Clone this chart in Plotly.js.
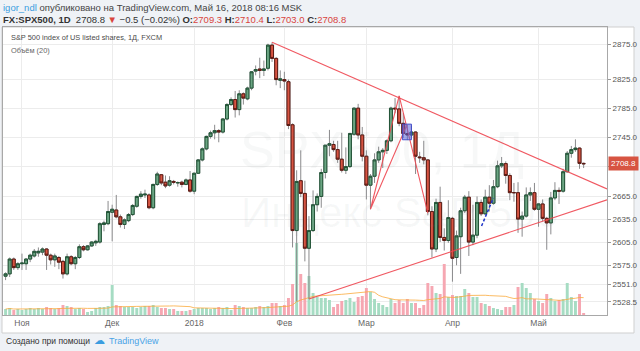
<!DOCTYPE html>
<html><head><meta charset="utf-8">
<script src="https://cdn.plot.ly/plotly-3.0.1.min.js"></script>
<style>html,body{margin:0;padding:0;background:#eff2f6;} #chart{width:640px;height:351px;}</style>
</head><body><div id="chart"></div>
<script>
// ---------- DATA ----------
const dates = [
 "2017-10-26","2017-10-27","2017-10-30","2017-10-31",
 "2017-11-01","2017-11-02","2017-11-03","2017-11-06","2017-11-07","2017-11-08","2017-11-09","2017-11-10","2017-11-13","2017-11-14","2017-11-15","2017-11-16","2017-11-17","2017-11-20","2017-11-21","2017-11-22","2017-11-23","2017-11-24","2017-11-27","2017-11-28","2017-11-29","2017-11-30",
 "2017-12-01","2017-12-04","2017-12-05","2017-12-06","2017-12-07","2017-12-08","2017-12-11","2017-12-12","2017-12-13","2017-12-14","2017-12-15","2017-12-18","2017-12-19","2017-12-20","2017-12-21","2017-12-22","2017-12-26","2017-12-27","2017-12-28","2017-12-29",
 "2018-01-02","2018-01-03","2018-01-04","2018-01-05","2018-01-08","2018-01-09","2018-01-10","2018-01-11","2018-01-12","2018-01-15","2018-01-16","2018-01-17","2018-01-18","2018-01-19","2018-01-22","2018-01-23","2018-01-24","2018-01-25","2018-01-26","2018-01-29","2018-01-30","2018-01-31",
 "2018-02-01","2018-02-02","2018-02-05","2018-02-06","2018-02-07","2018-02-08","2018-02-09","2018-02-12","2018-02-13","2018-02-14","2018-02-15","2018-02-16","2018-02-19","2018-02-20","2018-02-21","2018-02-22","2018-02-23","2018-02-26","2018-02-27","2018-02-28",
 "2018-03-01","2018-03-02","2018-03-05","2018-03-06","2018-03-07","2018-03-08","2018-03-09","2018-03-12","2018-03-13","2018-03-14","2018-03-15","2018-03-16","2018-03-19","2018-03-20","2018-03-21","2018-03-22","2018-03-23","2018-03-26","2018-03-27","2018-03-28","2018-03-29",
 "2018-04-02","2018-04-03","2018-04-04","2018-04-05","2018-04-06","2018-04-09","2018-04-10","2018-04-11","2018-04-12","2018-04-13","2018-04-16","2018-04-17","2018-04-18","2018-04-19","2018-04-20","2018-04-23","2018-04-24","2018-04-25","2018-04-26","2018-04-27","2018-04-30",
 "2018-05-01","2018-05-02","2018-05-03","2018-05-04","2018-05-07","2018-05-08","2018-05-09","2018-05-10","2018-05-11","2018-05-14","2018-05-15","2018-05-16"];

const openP = [2561,2564,2583,2572,
 2577,2577,2583,2587,2591,2592,2596,2588,2582,2585,2580,2564,2586,2577,2585,2599,2595,2600,2604,2605,2628,2629,
 2644,2647,2638,2628,2633,2641,2652,2665,2667,2667,2650,2681,2694,2684,2680,2685,2683,2684,2681,2687,
 2672,2696,2714,2729,2746,2751,2754,2752,2770,2790,2797,2783,2805,2798,2813,2837,2840,2838,2841,2874,2855,2824,
 2825,2822,2762,2620,2686,2669,2597,2620,2654,2665,2697,2734,2735,2728,2715,2700,2705,2749,2785,2748,
 2719,2680,2692,2714,2725,2727,2740,2785,2784,2764,2750,2748,2752,2718,2717,2714,2645,2596,2657,2611,2607,
 2636,2585,2612,2646,2664,2605,2614,2657,2642,2664,2656,2678,2706,2709,2693,2670,2670,2635,2639,2667,2670,
 2648,2655,2636,2630,2663,2673,2672,2698,2723,2728,2730,2709.3];
const highP = [2566,2585,2585,2579,
 2590,2584,2590,2596,2598,2598,2597,2590,2590,2587,2582,2590,2588,2587,2602,2601,2601,2606,2608,2631,2633,2659,
 2654,2667,2641,2636,2643,2655,2666,2672,2674,2669,2682,2698,2695,2693,2692,2687,2685,2686,2689,2699,
 2697,2715,2731,2747,2754,2762,2756,2771,2792,2800,2809,2810,2807,2815,2837,2845,2856,2852,2876,2878,2857,2838,
 2836,2825,2764,2700,2727,2686,2639,2673,2669,2702,2734,2755,2740,2740,2751,2731,2751,2786,2791,2759,
 2727,2695,2723,2732,2730,2742,2787,2799,2802,2778,2762,2761,2753,2725,2740,2715,2652,2662,2678,2623,2660,
 2638,2620,2650,2667,2672,2654,2665,2661,2674,2680,2687,2713,2718,2712,2696,2683,2684,2645,2677,2677,2683,
 2656,2661,2638,2671,2684,2677,2702,2726,2733,2742,2731,2710.4];
const lowP = [2556,2560,2569,2569,
 2569,2569,2579,2585,2586,2588,2569,2576,2573,2570,2558,2562,2575,2570,2583,2593,2594,2599,2600,2603,2619,2627,
 2606,2636,2624,2622,2631,2639,2650,2662,2663,2648,2648,2679,2680,2676,2678,2681,2678,2677,2680,2670,
 2668,2695,2712,2727,2743,2742,2738,2750,2768,2788,2772,2775,2790,2796,2810,2831,2827,2830,2838,2850,2817,2813,
 2810,2756,2598,2529,2664,2580,2532,2618,2645,2650,2689,2719,2725,2710,2697,2695,2703,2747,2742,2712,
 2661,2648,2683,2710,2703,2722,2738,2778,2760,2744,2741,2745,2695,2710,2708,2640,2585,2592,2605,2594,2604,
 2554,2575,2564,2643,2587,2601,2610,2639,2640,2645,2654,2676,2703,2682,2660,2658,2617,2612,2637,2659,2646,
 2625,2632,2595,2615,2660,2655,2670,2697,2717,2725,2702,2703];
const closeP = [2564,2583,2572,2577,
 2577.8,2583,2588,2593,2593,2596,2588,2582,2587,2579,2564,2586,2577,2585,2599,2595,2600,2605,2606,2629,2630,2645,
 2648,2638,2628,2634,2641,2653,2665,2668,2668,2650,2681,2695,2683,2679,2686,2684,2683.5,2681,2687,2672,
 2696,2714,2729,2746,2751,2754,2752,2770,2790,2797,2783,2805,2799,2813,2836,2839,2838,2840,2874,2855,2825,2826,
 2823,2761,2620,2685,2669,2597,2620,2654,2665,2697,2734,2736,2728,2715,2700,2705,2750,2785,2748,2719,
 2680,2692,2714,2725,2727,2740,2785,2784,2764,2750,2748,2752,2719,2717,2714,2645,2596,2657,2611,2607,2637,
 2584,2613,2646,2664,2605,2614,2657,2642,2664,2656,2678,2706,2709,2693,2670,2670,2635,2639,2667,2670,2648,
 2655,2636,2630,2663,2673,2672,2698,2723,2728,2730,2709.3,2708.8];
// volume (relative units)
const volume = [6,7,5,6,
 5,6,7,6,7,6,8,7,6,7,10,9,8,6,7,6,3,4,7,8,8,9,
 30,10,9,8,8,8,7,8,9,9,10,8,7,7,6,6,4,4,4,5,
 6,7,7,7,6,7,8,7,8,5,10,9,8,7,7,8,9,8,9,12,12,9,
 10,17,31,72,41,32,39,22,18,17,17,15,8,11,14,15,17,13,18,19,
 27,23,16,12,10,8,16,12,15,12,16,12,12,7,10,32,29,22,21,51,18,
 20,19,19,26,22,18,18,12,11,9,7,6,5,8,8,10,28,32,27,22,16,
 14,12,21,17,14,15,16,32,18,14,21,2];

const monthNames = ['2018','Фев','Мар','Апр','Май','Июн','Июл','Авг','Сен','Окт','Ноя','Дек'];
const priceTicks = [2528.5,2551.0,2575.0,2605.0,2635.0,2665.0,2705.0,2745.0,2785.0,2825.0,2875.0];
const lastPrice = 2708.8;

// drawings (bar index, price)
const upperTrendX = [65, 146.7],  upperTrendY = [2878, 2675];
const lowerTrendX = [74, 146.7],  lowerTrendY = [2532, 2660.5];
const zigX = [97.9, 89, 96, 103],  zigY = [2762, 2648, 2802, 2643];
const boxX = [96.8, 99.0, 99.0, 96.8, 96.8], boxY = [2741.4, 2741.4, 2762.9, 2762.9, 2741.4];
const dashX = [116.1, 119], dashY = [2626, 2663];

// ---------- BUILD ----------
const N = dates.length;
const xs = dates.map((d,k)=>k);
const tickIdx = [], tickTxt = [];
for (let k=1;k<N;k++){ if (dates[k].slice(5,7)!==dates[k-1].slice(5,7)) { tickIdx.push(k); tickTxt.push(monthNames[parseInt(dates[k].slice(5,7))-1]); } }
const up = closeP.map((c,k)=>c>=openP[k]);
const volColors = up.map(u=>u?'#a6dcc3':'#f6a7b2');
const volMA = volume.map((v,k)=>{const s=Math.max(0,k-19);const a=volume.slice(s,k+1);return a.reduce((p,q)=>p+q,0)/a.length;});
const bodyHi = openP.map((o,k)=>Math.max(o,closeP[k]));
const bodyLo = openP.map((o,k)=>Math.min(o,closeP[k]));
// the tick under the last-price label is hidden by it
const priceTickText = priceTicks.map(v=>Math.abs(v-lastPrice)<10 ? '' : v.toFixed(1));

const W=640,H=351,L=3,R=33,T=27,B=36;
const pw=W-L-R, ph=H-T-B;
const px2x = p=>(p-L)/pw, py2y = p=>(H-B-p)/ph;

const traces = [
 {type:'bar', x:xs, y:volume, yaxis:'y', marker:{color:volColors}, width:0.72, hoverinfo:'skip'},
 {type:'scatter', mode:'lines', x:xs, y:volMA, yaxis:'y', line:{color:'rgba(250,170,60,0.8)', width:1}, hoverinfo:'skip'},
 {type:'candlestick', x:xs, open:openP, high:highP, low:lowP, close:closeP, yaxis:'y2',
  increasing:{line:{color:'#8a8a8c', width:1}, fillcolor:'#6ba583'},
  decreasing:{line:{color:'#8a8a8c', width:1}, fillcolor:'#d75442'}, hoverinfo:'skip'},
 {type:'candlestick', x:xs, open:openP, high:bodyHi, low:bodyLo, close:closeP, yaxis:'y2',
  increasing:{line:{color:'#225437', width:1}, fillcolor:'#6ba583'},
  decreasing:{line:{color:'#5b1a13', width:1}, fillcolor:'#d75442'}, hoverinfo:'skip'},
 {type:'scatter', mode:'lines', x:upperTrendX, y:upperTrendY, yaxis:'y2', line:{color:'rgba(238,70,80,0.9)', width:1.1}, hoverinfo:'skip'},
 {type:'scatter', mode:'lines', x:lowerTrendX, y:lowerTrendY, yaxis:'y2', line:{color:'rgba(238,70,80,0.9)', width:1.1}, hoverinfo:'skip'},
 {type:'scatter', mode:'lines', x:zigX, y:zigY, yaxis:'y2', line:{color:'rgba(238,70,80,0.9)', width:1.1}, hoverinfo:'skip'},
 {type:'scatter', mode:'lines', x:boxX, y:boxY, yaxis:'y2', fill:'toself', fillcolor:'rgba(90,100,220,0.55)', line:{color:'rgba(60,70,200,0.9)', width:1}, hoverinfo:'skip'},
 {type:'scatter', mode:'lines', x:dashX, y:dashY, yaxis:'y2', line:{color:'#1f35c8', width:1.5, dash:'3px,2px'}, hoverinfo:'skip'}
];

const font = 'Liberation Sans, Arial, sans-serif';
function ann(text, px, py, size, color, extra){
  return Object.assign({xref:'paper', yref:'paper', x:px2x(px), y:py2y(py), xanchor:'left', yanchor:'middle', text:text, showarrow:false, font:{family:font, size:size, color:color}}, extra||{});
}
const red = '#d9453d';
const annotations = [
 ann('SPX500, 1Д', 382, 150, 52, 'rgba(120,130,140,0.06)', {xanchor:'center'}),
 ann('Индекс S&amp;P 500', 400, 212, 42, 'rgba(120,130,140,0.06)', {xanchor:'center'}),
 ann('<span style="color:#3b9de0">igor_ndl</span> опубликовано на TradingView.com, Май 16, 2018 08:16 MSK', 1, 7, 9.5, '#444'),
 ann('<b>FX:SPX500, 1D</b>  2708.8 <span style="color:'+red+'">▼</span> −0.5 (−0.02%) <b>O:</b><span style="color:'+red+'">2709.3</span> <b>H:</b><span style="color:'+red+'">2710.4</span> <b>L:</b><span style="color:'+red+'">2703.0</span> <b>C:</b><span style="color:'+red+'">2708.8</span>', 1, 19, 9.5, '#333'),
 ann('S&amp;P 500 index of US listed shares, 1Д, FXCM', 9, 37, 7.4, '#4a4a4a'),
 ann('Объём (20)', 9, 50, 7.4, '#666'),
 ann('Создано при помощи', 4, 341, 8.5, '#333'),
 ann('☁', 92, 340, 11, '#3b9de0'),
 ann('TradingView', 107, 341, 9, '#4aa3e6'),
 {xref:'paper', yref:'y2', x:1, y:Math.log10(lastPrice), xanchor:'left', yanchor:'middle', xshift:1, text:lastPrice.toFixed(1), showarrow:false,
  bgcolor:'#d75442', borderpad:2, font:{family:font, size:8, color:'#ffffff'}}
];

const layout = {
  width:W, height:H, margin:{l:L, r:R, t:T, b:B, pad:0},
  paper_bgcolor:'#eff2f6', plot_bgcolor:'#ffffff', showlegend:false,
  boxgap:0.2, boxgroupgap:0.1,
  xaxis:{range:[-0.63, 146.7], tickvals:tickIdx, ticktext:tickTxt, showgrid:true, gridcolor:'#ececec', gridwidth:1,
         zeroline:false, showline:true, mirror:true, linecolor:'#a8a8a8', ticks:'', tickfont:{family:font, size:8.5, color:'#666'},
         rangeslider:{visible:false}, fixedrange:true},
  yaxis:{range:[0, ph], visible:false, showgrid:false, zeroline:false, fixedrange:true},
  yaxis2:{type:'log', overlaying:'y', side:'right', anchor:'x', range:[Math.log10(2511.9), Math.log10(2900.1)],
          tickvals:priceTicks, ticktext:priceTickText, showgrid:true, gridcolor:'#ececec', zeroline:false,
          showline:true, mirror:true, linecolor:'#a8a8a8', ticks:'outside', ticklen:3, tickcolor:'#999',
          tickfont:{family:font, size:8, color:'#555'}, fixedrange:true},
  shapes:[{type:'rect', xref:'paper', yref:'paper', x0:px2x(2), x1:px2x(634), y0:py2y(333), y1:py2y(27), fillcolor:'#ffffff', line:{color:'#cfcfcf', width:1}, layer:'below'}],
  annotations:annotations
};
Plotly.newPlot('chart', traces, layout, {displayModeBar:false, staticPlot:true});
</script></body></html>
